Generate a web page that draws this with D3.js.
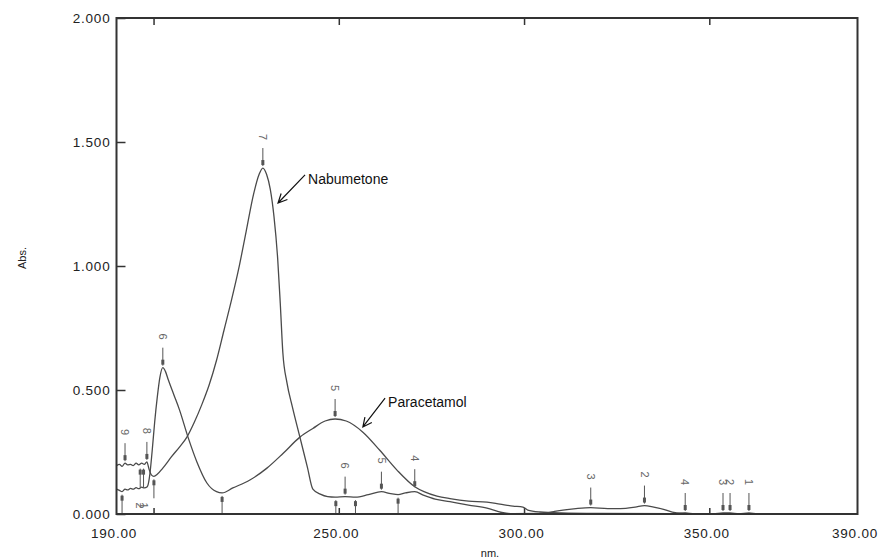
<!DOCTYPE html>
<html>
<head>
<script src="https://cdn.jsdelivr.net/npm/d3@7"></script>
<style>
  body { margin: 0; background: #fff; }
  text { font-family: "Liberation Sans", Arial, sans-serif; }
  .axis path.domain { stroke: none; }
  .axis .tick line { stroke: #333; stroke-width: 1.5; }
  .axis .tick text { fill: #222; font-size: 13.5px; letter-spacing: 0.8px; }
</style>
</head>
<body>
<svg id="chart" width="880" height="560"></svg>
<script>
// Nabumetone spectrum (nm, Abs)
var nabuNm  = [190, 190.8, 191.5, 192.3, 193.0, 193.8, 194.5, 195.3, 196.0, 196.8, 197.5, 198.2, 198.8, 199.4, 200.1, 201.0, 202.5, 204.8, 207.0, 209.0, 211.0, 213.0, 215.0, 217.0, 219.0, 221.0, 223.0, 225.0, 227.0, 228.5, 229.5, 230.5, 231.5, 232.5, 233.5, 234.2, 234.9, 236.0, 237.5, 239.5, 241.5, 243.0, 245.0, 247.0, 249.0, 251.7, 254.5, 258.0, 261.5, 264.0, 266.0, 268.0, 270.5, 273.0, 276.0, 280.0, 285.0, 290.0, 294.0, 297.0, 305.0, 308.0, 310.5, 314.0, 318.0, 322.6, 326.0, 330.0, 332.5, 335.0, 337.4, 340.0, 343.0, 346.0, 390.0];
var nabuAbs = [0.195, 0.2, 0.192, 0.205, 0.198, 0.2, 0.195, 0.205, 0.198, 0.205, 0.2, 0.21, 0.18, 0.158, 0.152, 0.16, 0.185, 0.23, 0.27, 0.31, 0.37, 0.44, 0.52, 0.62, 0.74, 0.86, 0.99, 1.14, 1.29, 1.37, 1.395, 1.37, 1.31, 1.2, 1.03, 0.85, 0.65, 0.53, 0.43, 0.31, 0.19, 0.1, 0.08, 0.07, 0.068, 0.07, 0.068, 0.078, 0.09, 0.082, 0.078, 0.085, 0.09, 0.075, 0.06, 0.05, 0.036, 0.024, 0.006, 0.001, 0.002, 0.01, 0.016, 0.022, 0.026, 0.022, 0.022, 0.028, 0.034, 0.028, 0.02, 0.008, 0.002, 0, 0];

// Paracetamol spectrum (nm, Abs)
var paraNm  = [190, 190.8, 191.5, 192.3, 193.0, 193.8, 194.5, 195.3, 196.0, 196.8, 197.5, 198.3, 199.0, 199.6, 200.3, 201.0, 201.7, 202.5, 203.2, 204.0, 205.5, 207.0, 209.3, 211.7, 214.4, 217.0, 218.5, 221.4, 226.0, 230.6, 235.0, 239.5, 243.0, 246.3, 249.0, 252.0, 256.5, 261.0, 265.7, 270.5, 273.0, 276.5, 280.0, 285.0, 290.0, 293.5, 297.0, 299.7, 301.0, 304.3, 310.0, 320.0, 340.0, 343.5, 346.0, 351.0, 353.7, 355.6, 358.0, 360.7, 363.0, 390.0];
var paraAbs = [0.1, 0.095, 0.09, 0.1, 0.097, 0.103, 0.1, 0.106, 0.102, 0.108, 0.105, 0.11, 0.16, 0.25, 0.37, 0.47, 0.55, 0.59, 0.575, 0.54, 0.48, 0.42, 0.31, 0.21, 0.125, 0.09, 0.085, 0.105, 0.137, 0.185, 0.245, 0.31, 0.345, 0.375, 0.383, 0.375, 0.33, 0.258, 0.177, 0.11, 0.09, 0.072, 0.062, 0.052, 0.048, 0.04, 0.032, 0.028, 0.016, 0.008, 0.004, 0.002, 0.001, 0.004, 0.001, 0.001, 0.004, 0.004, 0.001, 0.004, 0.001, 0];

// peak picks (arrow down onto curve)
var peakLabel = ["9", "8", "6", "7", "5", "6", "5", "4", "3", "2", "4", "3", "2", "1"];
var peakNm    = [192.3, 198.2, 202.5, 229.5, 249.0, 251.7, 261.5, 270.5, 318.0, 332.5, 343.5, 353.7, 355.6, 360.7];
var peakAbs   = [0.205, 0.21, 0.59, 1.395, 0.383, 0.07, 0.09, 0.1, 0.026, 0.034, 0.004, 0.004, 0.004, 0.004];

// valley picks (arrow up onto curve)
var valleyLabel = ["", "2", "1", "9", "", "", "", ""];
var valleyNm    = [191.5, 196.4, 197.3, 200.1, 218.5, 249.2, 254.5, 266.0];
var valleyAbs   = [0.09, 0.195, 0.195, 0.152, 0.085, 0.068, 0.068, 0.078];

// callouts: name, arrow tip (nm, Abs), text start (nm, Abs)
var noteText   = ["Nabumetone", "Paracetamol"];
var noteTipNm  = [233.6, 256.5];
var noteTipAbs = [1.254, 0.351];
var noteNm     = [241.7, 263.3];
var noteAbs    = [1.331, 0.431];

var xLabels = [190, 250, 300, 350, 390];
var xMarks  = [200, 250, 300, 350];
var yTicks  = [0, 0.5, 1.0, 1.5, 2.0];

var svg = d3.select("#chart");
var plotL = 116.5, plotR = 857.5, plotT = 18, plotB = 514;

var x = d3.scaleLinear().domain([190, 390]).range([plotL, plotR]);
var y = d3.scaleLinear().domain([0, 2]).range([plotB, plotT]);

svg.append("clipPath").attr("id", "plot")
  .append("rect").attr("x", plotL).attr("y", plotT).attr("width", plotR - plotL).attr("height", plotB - plotT);

// axes
svg.append("g").attr("class", "axis").attr("transform", "translate(" + plotL + ",0)")
  .call(d3.axisLeft(y).tickValues(yTicks).tickSizeInner(-9).tickSizeOuter(0).tickPadding(6).tickFormat(d3.format(".3f")));

svg.append("g").attr("class", "axis").attr("transform", "translate(0," + plotB + ")")
  .call(d3.axisBottom(x).tickValues(xLabels).tickSize(0).tickPadding(14).tickFormat(d3.format(".2f")))
  .selectAll("text").attr("dx", -3);

svg.append("g").attr("class", "axis").attr("transform", "translate(0," + plotB + ")")
  .call(d3.axisBottom(x).tickValues(xMarks).tickSizeInner(-6).tickSizeOuter(0).tickFormat(""));

svg.append("g").attr("class", "axis").attr("transform", "translate(0," + plotT + ")")
  .call(d3.axisTop(x).tickValues(xMarks).tickSizeInner(-7).tickSizeOuter(0).tickFormat(""));

svg.append("text").attr("transform", "translate(26,258) rotate(-90)")
  .attr("text-anchor", "middle").attr("font-size", 11).attr("fill", "#222").text("Abs.");
svg.append("text").attr("x", 490).attr("y", 557)
  .attr("text-anchor", "middle").attr("font-size", 11).attr("fill", "#222").text("nm.");

var plot = svg.append("g").attr("clip-path", "url(#plot)");

var line = d3.line()
  .x(d => x(d[0]))
  .y(d => y(d[1]))
  .curve(d3.curveMonotoneX);

plot.append("path")
  .attr("d", line(d3.zip(nabuNm, nabuAbs)))
  .attr("fill", "none").attr("stroke", "#4a4a4a").attr("stroke-width", 1.3);

plot.append("path")
  .attr("d", line(d3.zip(paraNm, paraAbs)))
  .attr("fill", "none").attr("stroke", "#4a4a4a").attr("stroke-width", 1.3);

// peak markers
var peaks = d3.zip(peakNm, peakAbs, peakLabel);
var pk = plot.selectAll("g.peak").data(peaks).enter().append("g").attr("class", "peak");
pk.append("line")
  .attr("x1", d => x(d[0])).attr("x2", d => x(d[0]))
  .attr("y1", d => y(d[1]) - 20).attr("y2", d => y(d[1]) - 2)
  .attr("stroke", "#555").attr("stroke-width", 1);
pk.append("rect")
  .attr("x", d => x(d[0]) - 1.5).attr("y", d => y(d[1]) - 8)
  .attr("width", 3).attr("height", 5).attr("fill", "#555");
pk.append("text")
  .attr("transform", d => "translate(" + x(d[0]) + "," + (y(d[1]) - 31) + ") rotate(90)")
  .attr("text-anchor", "middle").attr("dy", "0.35em")
  .attr("font-size", 11).attr("fill", "#666").text(d => d[2]);

// valley markers
var valleys = d3.zip(valleyNm, valleyAbs, valleyLabel);
var vl = plot.selectAll("g.valley").data(valleys).enter().append("g").attr("class", "valley");
vl.append("line")
  .attr("x1", d => x(d[0])).attr("x2", d => x(d[0]))
  .attr("y1", d => y(d[1]) + 3).attr("y2", d => y(d[1]) + 22)
  .attr("stroke", "#555").attr("stroke-width", 1);
vl.append("rect")
  .attr("x", d => x(d[0]) - 1.5).attr("y", d => y(d[1]) + 4)
  .attr("width", 3).attr("height", 5).attr("fill", "#555");
vl.append("text")
  .attr("transform", d => "translate(" + x(d[0]) + "," + (y(d[1]) + 40) + ") rotate(90)")
  .attr("text-anchor", "middle").attr("dy", "0.35em")
  .attr("font-size", 11).attr("fill", "#666").text(d => d[2]);

// callouts with arrows
var notes = d3.range(noteText.length).map(i => ({
  text: noteText[i], tx: x(noteTipNm[i]), ty: y(noteTipAbs[i]), sx: x(noteNm[i]), sy: y(noteAbs[i])
}));
notes.forEach(function (n) {
  var ax = n.sx - 3, ay = n.sy - 9;
  var ang = Math.atan2(ay - n.ty, ax - n.tx);
  var w = 0.45, len = 10;
  svg.append("path")
    .attr("d", "M" + ax + "," + ay + "L" + n.tx + "," + n.ty +
      "M" + (n.tx + len * Math.cos(ang - w)) + "," + (n.ty + len * Math.sin(ang - w)) +
      "L" + n.tx + "," + n.ty +
      "L" + (n.tx + len * Math.cos(ang + w)) + "," + (n.ty + len * Math.sin(ang + w)))
    .attr("fill", "none").attr("stroke", "#111").attr("stroke-width", 1.2);
  svg.append("text").attr("x", n.sx).attr("y", n.sy)
    .attr("font-size", 14).attr("fill", "#111").text(n.text);
});

// frame
svg.append("rect").attr("x", plotL).attr("y", plotT).attr("width", plotR - plotL).attr("height", plotB - plotT)
  .attr("fill", "none").attr("stroke", "#333").attr("stroke-width", 2);
</script>
</body>
</html>
